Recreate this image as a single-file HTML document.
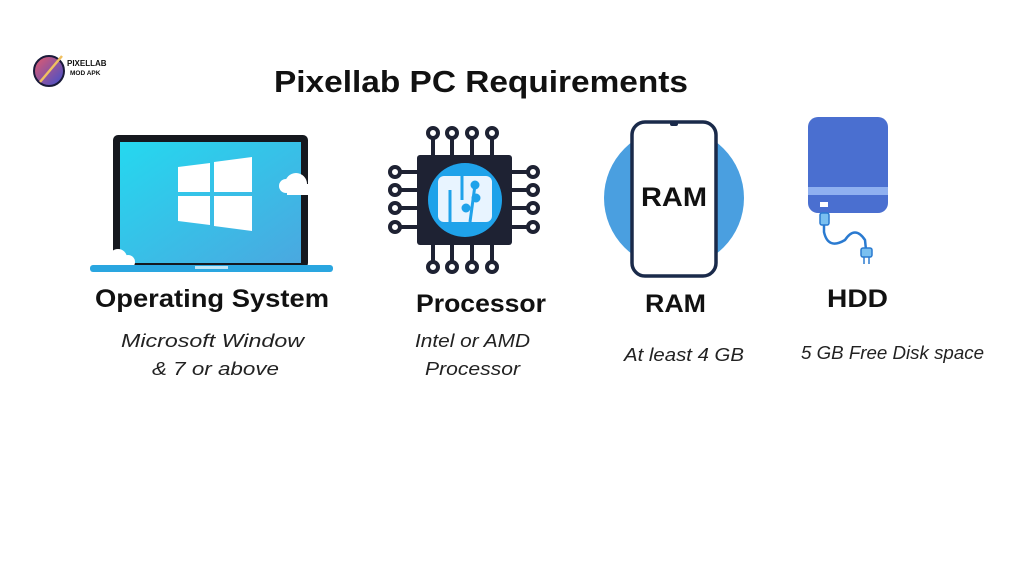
<!DOCTYPE html>
<html><head><style>html,body{margin:0;padding:0;background:#fff;width:1024px;height:576px;overflow:hidden}</style></head>
<body>
<svg width="1024" height="576" viewBox="0 0 1024 576" xmlns="http://www.w3.org/2000/svg" font-family="Liberation Sans, sans-serif">
<defs>
<linearGradient id="scr" x1="0" y1="0" x2="1" y2="1"><stop offset="0" stop-color="#25d8ef"/><stop offset="1" stop-color="#4aa8e0"/></linearGradient>
<linearGradient id="logo" x1="0" y1="0" x2="1" y2="1"><stop offset="0" stop-color="#e85a6a"/><stop offset="1" stop-color="#3a4fd0"/></linearGradient>
</defs>
<!-- logo -->
<circle cx="49" cy="71" r="15" fill="url(#logo)" stroke="#1a1a3a" stroke-width="2"/>
<line x1="40" y1="82" x2="62" y2="56" stroke="#f0c060" stroke-width="2.5"/>
<text x="67" y="66" font-size="8" font-weight="bold" fill="#111">PIXELLAB</text>
<text x="70" y="75" font-size="6.5" font-weight="bold" fill="#111">MOD APK</text>
<!-- title -->
<text x="274" y="92" font-size="31" font-weight="bold" fill="#111" textLength="414" lengthAdjust="spacingAndGlyphs">Pixellab PC Requirements</text>
<!-- laptop -->
<rect x="113" y="135" width="195" height="133" rx="5" fill="#15181e"/>
<rect x="120" y="142" width="181" height="121" fill="url(#scr)"/>
<g fill="#fff"><polygon points="178,167 210,163 210,192 178,192"/><polygon points="214,162 252,157 252,192 214,192"/><polygon points="178,196 210,196 210,225 178,221"/><polygon points="214,196 252,196 252,231 214,226"/></g>
<circle cx="296" cy="184" r="11" fill="#fff"/><circle cx="286" cy="186" r="7" fill="#fff"/><rect x="287" y="184" width="22" height="11" fill="#fff"/>
<circle cx="118" cy="258" r="9" fill="#fff"/><circle cx="128" cy="262" r="7" fill="#fff"/>
<rect x="90" y="265" width="243" height="7" rx="3" fill="#2aa6e0"/>
<rect x="195" y="266" width="33" height="3" fill="#bfe6f6"/>
<!-- chip -->
<g stroke="#1e2233" stroke-width="4" fill="none">
<line x1="433" y1="138" x2="433" y2="160"/><line x1="452" y1="138" x2="452" y2="160"/><line x1="472" y1="138" x2="472" y2="160"/><line x1="492" y1="138" x2="492" y2="160"/>
<line x1="433" y1="240" x2="433" y2="262"/><line x1="452" y1="240" x2="452" y2="262"/><line x1="472" y1="240" x2="472" y2="262"/><line x1="492" y1="240" x2="492" y2="262"/>
<line x1="400" y1="172" x2="420" y2="172"/><line x1="400" y1="190" x2="420" y2="190"/><line x1="400" y1="208" x2="420" y2="208"/><line x1="400" y1="227" x2="420" y2="227"/>
<line x1="510" y1="172" x2="528" y2="172"/><line x1="510" y1="190" x2="528" y2="190"/><line x1="510" y1="208" x2="528" y2="208"/><line x1="510" y1="227" x2="528" y2="227"/>
<circle cx="433" cy="133" r="5"/><circle cx="452" cy="133" r="5"/><circle cx="472" cy="133" r="5"/><circle cx="492" cy="133" r="5"/>
<circle cx="433" cy="267" r="5"/><circle cx="452" cy="267" r="5"/><circle cx="472" cy="267" r="5"/><circle cx="492" cy="267" r="5"/>
<circle cx="395" cy="172" r="5"/><circle cx="395" cy="190" r="5"/><circle cx="395" cy="208" r="5"/><circle cx="395" cy="227" r="5"/>
<circle cx="533" cy="172" r="5"/><circle cx="533" cy="190" r="5"/><circle cx="533" cy="208" r="5"/><circle cx="533" cy="227" r="5"/>
</g>
<rect x="417" y="155" width="95" height="90" rx="3" fill="#1e2233"/>
<circle cx="465" cy="200" r="37" fill="#1fa2ea"/>
<rect x="438" y="176" width="54" height="46" rx="6" fill="#e8f4ff"/>
<g stroke="#1fa2ea" stroke-width="3" fill="#1fa2ea"><line x1="450" y1="190" x2="450" y2="222"/><line x1="462" y1="176" x2="462" y2="200"/><line x1="475" y1="185" x2="470" y2="222"/><circle cx="475" cy="185" r="3"/><circle cx="476" cy="198" r="3"/><circle cx="466" cy="208" r="3"/></g>
<!-- RAM -->
<circle cx="674" cy="198" r="70" fill="#4a9fe0"/>
<rect x="632" y="122" width="84" height="154" rx="13" fill="#fff" stroke="#1a2a4a" stroke-width="3.5"/>
<rect x="670" y="122" width="8" height="4" rx="2" fill="#1a2a4a"/>
<text x="641" y="206" font-size="27" font-weight="bold" fill="#111" textLength="66" lengthAdjust="spacingAndGlyphs">RAM</text>
<!-- HDD -->
<rect x="808" y="117" width="80" height="96" rx="10" fill="#4a6fd0"/>
<rect x="808" y="187" width="80" height="8" fill="#8fb0f0"/>
<rect x="820" y="202" width="8" height="5" fill="#fff"/>
<path d="M824 214 L824 232 Q828 250 845 240 Q855 225 865 240 L866 250" stroke="#2a7ad0" stroke-width="2.5" fill="none"/>
<rect x="820" y="213" width="9" height="12" rx="2" fill="#7ac0f0" stroke="#2a7ad0" stroke-width="1.5"/>
<rect x="861" y="248" width="11" height="9" rx="2" fill="#7ac0f0" stroke="#2a7ad0" stroke-width="1.5"/>
<line x1="864" y1="257" x2="864" y2="264" stroke="#2a7ad0" stroke-width="1.5"/><line x1="869" y1="257" x2="869" y2="264" stroke="#2a7ad0" stroke-width="1.5"/>
<!-- labels -->
<g font-weight="bold" fill="#111" font-size="25">
<text x="95" y="307" textLength="234" lengthAdjust="spacingAndGlyphs">Operating System</text>
<text x="416" y="312" textLength="130" lengthAdjust="spacingAndGlyphs">Processor</text>
<text x="645" y="312" textLength="61" lengthAdjust="spacingAndGlyphs">RAM</text>
<text x="827" y="307" textLength="61" lengthAdjust="spacingAndGlyphs">HDD</text>
</g>
<g font-style="italic" fill="#222" font-size="18">
<text x="121" y="347" textLength="183" lengthAdjust="spacingAndGlyphs">Microsoft  Window</text>
<text x="152" y="375" textLength="127" lengthAdjust="spacingAndGlyphs">&amp; 7 or above</text>
<text x="415" y="347" textLength="115" lengthAdjust="spacingAndGlyphs">Intel or AMD</text>
<text x="425" y="375" textLength="95" lengthAdjust="spacingAndGlyphs">Processor</text>
<text x="624" y="361" textLength="120" lengthAdjust="spacingAndGlyphs">At least 4 GB</text>
<text x="801" y="359" textLength="183" lengthAdjust="spacingAndGlyphs">5 GB Free Disk space</text>
</g>
</svg>
</body></html>
